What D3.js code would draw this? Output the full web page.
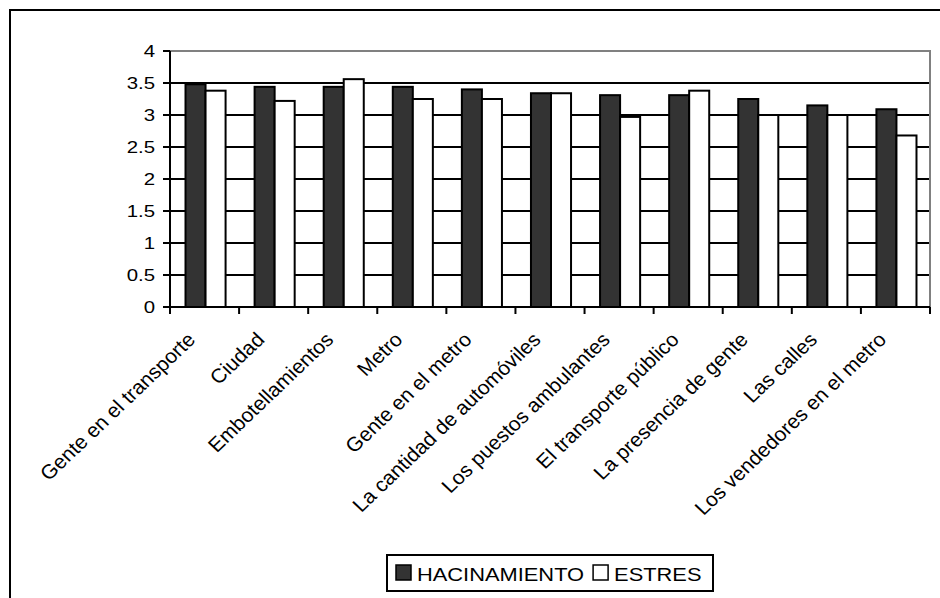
<!DOCTYPE html>
<html>
<head>
<meta charset="utf-8">
<script src="https://cdn.jsdelivr.net/npm/d3@7"></script>
<style>
  html, body { margin: 0; padding: 0; background: #fff; }
  svg { display: block; }
  text { font-family: "Liberation Sans", Arial, sans-serif; fill: #000; }
</style>
</head>
<body>
<svg id="chart" width="940" height="598"></svg>
<script>
const categories = [
  "Gente en el transporte", "Ciudad", "Embotellamientos", "Metro",
  "Gente en el metro", "La cantidad de automóviles", "Los puestos ambulantes",
  "El transporte público", "La presencia de gente", "Las calles",
  "Los vendedores en el metro"
];
const seriesNames = ["HACINAMIENTO", "ESTRES"];
const hacinamiento = [3.48, 3.44, 3.44, 3.44, 3.40, 3.34, 3.31, 3.31, 3.25, 3.15, 3.09];
const estres       = [3.38, 3.22, 3.56, 3.25, 3.25, 3.34, 2.97, 3.38, 3.00, 3.00, 2.68];
const yTicks = [0, 0.5, 1, 1.5, 2, 2.5, 3, 3.5, 4];
const seriesColors = ["#333333", "#ffffff"];

const svg = d3.select("#chart");
const SX = 1.2;   // horizontal text stretch of the original (y labels)
const SXL = 1.05; // stretch for category labels
const SXG = 1.15; // stretch for legend

// outer frame
svg.append("rect").attr("x", 10).attr("y", 10).attr("width", 940).attr("height", 600)
  .attr("fill", "none").attr("stroke", "#000").attr("stroke-width", 2);

const pLeft = 170, pRight = 930, pTop = 51, pBottom = 307;
const x0 = d3.scaleBand().domain(categories).range([pLeft, pRight]).padding(0);
const groupW = x0.bandwidth() * 0.58;
const x1 = d3.scaleBand().domain(seriesNames).range([0, groupW]).padding(0);
const y = d3.scaleLinear().domain([0, 4]).range([pBottom, pTop]);

// gridlines
svg.append("g").selectAll("line").data(yTicks.filter(t => t > 0 && t < 4)).join("line")
  .attr("x1", pLeft).attr("x2", pRight).attr("y1", d => y(d)).attr("y2", d => y(d))
  .attr("stroke", "#000").attr("stroke-width", 2);
// plot border top & right (gray)
svg.append("path")
  .attr("d", `M${pLeft},${y(4)}H${pRight}V${pBottom}`)
  .attr("fill", "none").attr("stroke", "#808080").attr("stroke-width", 2);

// bars
const data = categories.map((c, i) => ({ c, vals: [hacinamiento[i], estres[i]] }));
const g = svg.append("g");
data.forEach(d => {
  const off = x0(d.c) + (x0.bandwidth() - groupW) / 2 + 1;
  seriesNames.forEach((s, j) => {
    g.append("rect")
      .attr("x", off + x1(s)).attr("width", x1.bandwidth())
      .attr("y", y(d.vals[j])).attr("height", y(0) - y(d.vals[j]))
      .attr("fill", seriesColors[j]).attr("stroke", "#000").attr("stroke-width", 2);
  });
});

// y axis
const yAxis = svg.append("g");
yAxis.append("line").attr("x1", pLeft).attr("x2", pLeft).attr("y1", y(4)).attr("y2", y(0))
  .attr("stroke", "#000").attr("stroke-width", 2);
yAxis.selectAll("line.tick").data(yTicks).join("line").attr("class", "tick")
  .attr("x1", pLeft - 7).attr("x2", pLeft).attr("y1", d => y(d)).attr("y2", d => y(d))
  .attr("stroke", "#000").attr("stroke-width", 2);
yAxis.selectAll("text").data(yTicks).join("text")
  .attr("transform", d => `translate(155,${y(d)}) scale(${SX},1)`)
  .attr("text-anchor", "end").attr("dy", "0.36em")
  .attr("font-size", 17)
  .text(d => String(d));

// x axis
const xAxis = svg.append("g");
xAxis.append("line").attr("x1", pLeft).attr("x2", pRight).attr("y1", y(0)).attr("y2", y(0))
  .attr("stroke", "#000").attr("stroke-width", 2);
const bounds = categories.map(c => x0(c)).concat([pRight]);
xAxis.selectAll("line.tick").data(bounds).join("line").attr("class", "tick")
  .attr("x1", d => d).attr("x2", d => d).attr("y1", y(0)).attr("y2", y(0) + 7)
  .attr("stroke", "#000").attr("stroke-width", 2);
xAxis.selectAll("text").data(categories).join("text")
  .attr("transform", d => `translate(${x0(d) + x0.bandwidth() / 2 - 8},341) scale(${SXL},1) rotate(-45)`)
  .attr("text-anchor", "end")
  .attr("font-size", 20)
  .text(d => d);

// legend
const leg = svg.append("g");
leg.append("rect").attr("x", 387).attr("y", 555).attr("width", 326).attr("height", 36)
  .attr("fill", "#fff").attr("stroke", "#000").attr("stroke-width", 2);
let lx = 396;
seriesNames.forEach((s, j) => {
  leg.append("rect").attr("x", lx).attr("y", 565).attr("width", 15).attr("height", 15)
    .attr("fill", seriesColors[j]).attr("stroke", "#000").attr("stroke-width", 1.5);
  const t = leg.append("text")
    .attr("transform", `translate(${lx + 21},581) scale(${SXG},1)`)
    .attr("font-size", 19).text(s);
  lx = lx + 21 + t.node().getComputedTextLength() * SXG + 9;
});
</script>
</body>
</html>
